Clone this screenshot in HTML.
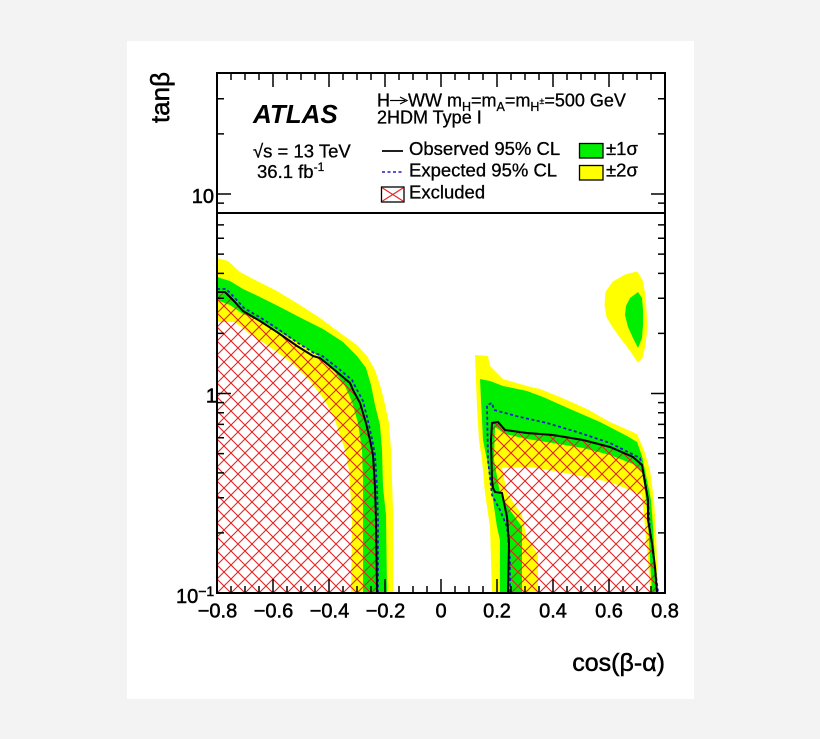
<!DOCTYPE html>
<html><head><meta charset="utf-8"><style>
html,body{margin:0;padding:0;background:#f3f3f3;}
svg{display:block;}
text{font-family:"Liberation Sans",Arial,sans-serif;fill:#000;}
.b{stroke:#000;stroke-width:0.5;}
.l{stroke:#000;stroke-width:0.3;}
</style></head><body>
<svg width="820" height="739" viewBox="0 0 820 739" xmlns="http://www.w3.org/2000/svg">
<defs>
<pattern id="h" patternUnits="userSpaceOnUse" width="14" height="14" x="217" y="593">
<path d="M0,0L14,14M14,0L0,14M-2,12L2,16M12,-2L16,2M-2,2L2,-2M12,16L16,12" stroke="#e52222" stroke-width="1.1" fill="none"/>
</pattern>
</defs>
<rect width="820" height="739" fill="#f3f3f3"/>
<rect x="127" y="41" width="567" height="658" fill="#fff"/>

<!-- LEFT REGION -->
<polygon fill="#ffff00" points="217,258 228,261 240,272 257,281 277,291 300,305 320,318 343,335 357,345 367,356 375,370 380,385 384,400 389,423 391,450 392,480 393,510 393,592 217,592"/>
<polygon fill="#00ee00" points="217,277 230,281 243,289 260,297 280,307 303,319 323,329 343,342 357,356 366,368 371,385 375,405 380,425 382,450 383,487 386,515 387,592 217,592"/>
<polygon fill="#ffff00" points="217,300 230,305 243,314 267,324 283,334 303,346 320,357 335,372 345,386 352,402 358,423 362,450 363,480 363,592 217,592"/>
<polygon fill="#ffffff" points="217,322 235,322 250,334 270,347 293,364 310,381 323,398 333,415 339,432 345,450 349,470 352,520 351,592 217,592"/>
<polygon fill="url(#h)" points="217,292 225,292 233,300 243,311 260,321 277,332 297,346 313,356 320,358 337,372 350,383 353,390 360,403 366,423 370,440 373,455 375,487 376,520 377,592 217,592"/>
<polyline fill="none" stroke="#1c1cc8" stroke-width="1.8" stroke-dasharray="3,2.5" points="217,289 226,289 234,297 244,308 261,318 278,329 298,343 314,353 321,355 339,369 352,380 356,388 363,401 368,421 372,439 375,455 377,487 378,520 378,592"/>
<polyline fill="none" stroke="#000" stroke-width="2" points="217,292 225,292 233,300 243,311 260,321 277,332 297,346 313,356 320,358 337,372 350,383 353,390 360,403 366,423 370,440 373,455 375,487 376,520 377,592"/>

<!-- RIGHT REGION -->
<polygon fill="#ffff00" points="475,355 488,356 490,366 503,379 527,386 540,389 560,397 587,409 610,422 637,434 644,450 650,470 654,500 656,530 658,592 492,592 490,527 485,493 482,460 479,440 477,407"/>
<polygon fill="#00ee00" points="480,379 490,381 503,386 527,391 543,397 570,409 600,422 627,436 637,442 642,456 647,480 651,500 653,527 655,560 657,592 500,592 500,540 497,527 492,493 487,460 483,440 481,400"/>
<polygon fill="#ffff00" points="495,427 505,434 527,439 553,443 583,448 610,455 633,464 642,472 645,490 648,520 650,560 652,592 522,592 522,527 510,510 500,493 494,460"/>
<polygon fill="#ffffff" points="502,468 530,467 560,472 610,482 642,495 645,527 648,560 650,592 538,592 538,555 526,535 522,515 507,493"/>
<polygon fill="url(#h)" points="508,592 509,543 507,517 502,493 495,492 493,488 492,480 491,440 492,423 498,422 505,430 527,433 553,435 583,440 610,447 633,457 642,465 645,483 648,500 648,520 652,543 655,567 657,592"/>
<polyline fill="none" stroke="#1c1cc8" stroke-width="1.8" stroke-dasharray="3,2.5" points="510,592 510,560 507,527 500,510 492,495 488,460 487,405 492,403 494,410 520,417 547,423 577,432 610,443 640,458 645,480 648,500 650,530 654,560 658,592"/>
<polyline fill="none" stroke="#000" stroke-width="2" points="508,592 509,543 507,517 502,493 495,492 493,488 492,480 491,440 492,423 498,422 505,430 527,433 553,435 583,440 610,447 633,457 642,465 645,483 648,500 648,520 652,543 655,567 657,592"/>

<!-- ISLAND -->
<polygon fill="#ffff00" stroke="#ffff00" stroke-width="1" stroke-linejoin="round" points="637,272 625,275 613,282 606,292 605,305 607,317 613,327 620,337 630,350 638,362 642,358 645,345 647,327 646,310 645,295 642,280"/>
<polygon fill="#00ee00" points="638,292 630,298 626,306 625,315 628,327 633,338 638,348 642,338 643,325 643,310 642,298"/>

<!-- TICKS -->
<g stroke="#000" stroke-width="1.5" fill="none">
<path d="M217,593v-14M273,593v-14M329,593v-14M385,593v-14M441,593v-14M497,593v-14M553,593v-14M609,593v-14M665,593v-14"/>
<path d="M231,593v-7M245,593v-7M259,593v-7M287,593v-7M301,593v-7M315,593v-7M343,593v-7M357,593v-7M371,593v-7M399,593v-7M413,593v-7M427,593v-7M455,593v-7M469,593v-7M483,593v-7M511,593v-7M525,593v-7M539,593v-7M567,593v-7M581,593v-7M595,593v-7M623,593v-7M637,593v-7M651,593v-7"/>
<path d="M217,73v14M273,73v14M329,73v14M385,73v14M441,73v14M497,73v14M553,73v14M609,73v14M665,73v14"/>
<path d="M231,73v7M245,73v7M259,73v7M287,73v7M301,73v7M315,73v7M343,73v7M357,73v7M371,73v7M399,73v7M413,73v7M427,73v7M455,73v7M469,73v7M483,73v7M511,73v7M525,73v7M539,73v7M567,73v7M581,73v7M595,73v7M623,73v7M637,73v7M651,73v7"/>
<path d="M217,593h14M217,393.5h14M217,194h14M665,593h-14M665,393.5h-14M665,194h-14"/>
<path d="M217,532.9h7M217,497.8h7M217,472.9h7M217,453.6h7M217,437.8h7M217,424.4h7M217,412.8h7M217,402.6h7M217,333.4h7M217,298.3h7M217,273.4h7M217,254.1h7M217,238.3h7M217,224.9h7M217,213.3h7M217,203.1h7M217,133.9h7M217,98.8h7"/>
<path d="M665,532.9h-7M665,497.8h-7M665,472.9h-7M665,453.6h-7M665,437.8h-7M665,424.4h-7M665,412.8h-7M665,402.6h-7M665,333.4h-7M665,298.3h-7M665,273.4h-7M665,254.1h-7M665,238.3h-7M665,224.9h-7M665,213.3h-7M665,203.1h-7M665,133.9h-7M665,98.8h-7"/>
</g>

<!-- FRAME & separator -->
<rect x="217" y="73" width="448" height="520" fill="none" stroke="#000" stroke-width="2"/>
<line x1="217" y1="213" x2="665" y2="213" stroke="#000" stroke-width="2"/>

<!-- AXIS LABELS -->
<g font-size="20" text-anchor="middle" class="b">
<text x="217.5" y="617.5">−0.8</text>
<text x="273.5" y="617.5">−0.6</text>
<text x="329.5" y="617.5">−0.4</text>
<text x="385.5" y="617.5">−0.2</text>
<text x="441" y="617.5">0</text>
<text x="497" y="617.5">0.2</text>
<text x="553" y="617.5">0.4</text>
<text x="609" y="617.5">0.6</text>
<text x="665" y="617.5">0.8</text>
</g>
<text x="214" y="203" font-size="20" text-anchor="end" class="b">10</text>
<text x="217" y="402.5" font-size="20" text-anchor="end" class="b">1</text>
<text x="176" y="603" font-size="20" class="b">10<tspan font-size="14" dy="-7">−1</tspan></text>

<text x="665" y="671" font-size="25" text-anchor="end" class="b">cos(β-α)</text>
<text transform="translate(169,97.5) rotate(-90)" font-size="26" text-anchor="middle" class="b">tanβ</text>

<!-- LEGEND -->
<text x="253" y="123" font-size="26" font-weight="bold" font-style="italic">ATLAS</text>
<text x="253" y="157.5" font-size="18.5" class="l">√s = 13 TeV</text>
<text x="257" y="178" font-size="18.5" class="l">36.1 fb<tspan font-size="12" dy="-7">-1</tspan></text>

<text x="377" y="106.5" font-size="18" class="l">H</text>
<line x1="390" y1="100.5" x2="405" y2="100.5" stroke="#000" stroke-width="1.2"/>
<path d="M400,97 L407,100.5 L400,104" fill="none" stroke="#000" stroke-width="1.2"/>
<text x="408" y="106.5" font-size="18" class="l">WW m<tspan font-size="12.5" dy="4.5">H</tspan><tspan dy="-4.5">=m</tspan><tspan font-size="12.5" dy="4.5">A</tspan><tspan dy="-4.5">=m</tspan><tspan font-size="12.5" dy="4.5">H</tspan><tspan font-size="9" dy="-7">±</tspan><tspan dy="2.5">=500 GeV</tspan></text>
<text x="377" y="123.5" font-size="18" class="l">2HDM Type I</text>

<line x1="382" y1="151" x2="403" y2="151" stroke="#000" stroke-width="1.8"/>
<text x="409" y="155" font-size="18.5" class="l">Observed 95% CL</text>
<line x1="382" y1="172" x2="403" y2="172" stroke="#1c1cc8" stroke-width="1.6" stroke-dasharray="3,2.5"/>
<text x="409" y="176.5" font-size="18.5" class="l">Expected 95% CL</text>
<rect x="381.5" y="187" width="22.5" height="15" fill="#fff" stroke="#000" stroke-width="1.3"/>
<path d="M382.5,188L403,201M403,188L382.5,201" stroke="#e52222" stroke-width="1.1"/>
<text x="409" y="198.3" font-size="18.5" class="l">Excluded</text>

<rect x="579.5" y="143.5" width="23.5" height="14.5" fill="#00ee00" stroke="#000" stroke-width="1.3"/>
<text x="606" y="155" font-size="18.5" class="l">±1σ</text>
<rect x="579.5" y="165.5" width="23.5" height="14.5" fill="#ffff00" stroke="#000" stroke-width="1.3"/>
<text x="606" y="176.5" font-size="18.5" class="l">±2σ</text>
</svg>
</body></html>
